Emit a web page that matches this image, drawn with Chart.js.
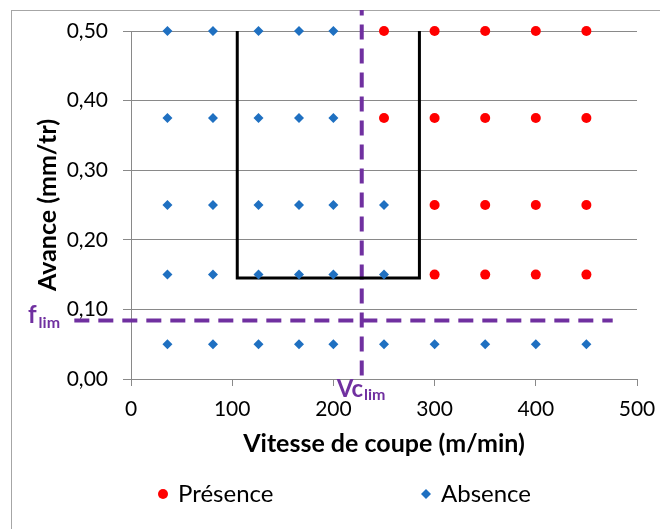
<!DOCTYPE html>
<html>
<head>
<meta charset="utf-8">
<script src="https://cdn.jsdelivr.net/npm/chart.js@4.4.1/dist/chart.umd.min.js"></script>
<style>
  html, body { margin: 0; padding: 0; background: #fff; }
  #wrap { width: 660px; height: 529px; }
</style>
</head>
<body>
<div id="wrap"><canvas id="graphe" width="660" height="529"></canvas></div>
<script>
// vitesses de coupe (m/min) testées, et avances (mm/tr)
const vitesses = [36, 81, 126, 166, 200, 250, 300, 350, 400, 450];
const avances = [0.50, 0.375, 0.25, 0.15, 0.05];
// P = présence, A = absence ; une ligne par avance, une lettre par vitesse
const etats = [
    'AAAAAPPPPP',
    'AAAAAPPPPP',
    'AAAAAAPPPP',
    'AAAAAAPPPP',
    'AAAAAAAAAA'
];
// cadre noir (ouvert en haut)
const cadreX = [105, 105, 285, 285];
const cadreY = [0.50, 0.145, 0.145, 0.50];
// limites
const fLim = 0.084;
const vcLim = 228;
const fLimX = [-56, 476];
const vcLimY = [0.005, 0.53];

const xTicks = [0, 100, 200, 300, 400, 500];
const yTicks = [0, 0.1, 0.2, 0.3, 0.4, 0.5];

const BLEU = '#1f70c1';
const ROUGE = '#ff0000';
const VIOLET = '#7030a0';
const GRIS = '#898989';

const presence = [];
const absence = [];
avances.forEach((f, i) => {
    vitesses.forEach((vc, j) => {
        const pt = {x: vc, y: f};
        if (etats[i][j] === 'P') presence.push(pt); else absence.push(pt);
    });
});

Chart.defaults.font.family = 'Lato';
Chart.defaults.color = '#000';

const deco = {
    id: 'deco',
    beforeDraw(chart) {
        const ctx = chart.ctx;
        ctx.save();
        ctx.fillStyle = '#fff';
        ctx.fillRect(0, 0, chart.width, chart.height);
        ctx.strokeStyle = '#a6a6a6';
        ctx.lineWidth = 1;
        ctx.strokeRect(11.5, 10.5, 700, 600);
        ctx.restore();
    },
    afterDraw(chart) {
        const ctx = chart.ctx;
        const sx = chart.scales.x, sy = chart.scales.y;
        ctx.save();
        ctx.fillStyle = VIOLET;
        ctx.textAlign = 'left';
        ctx.textBaseline = 'alphabetic';
        // f lim
        const fy = sy.getPixelForValue(fLim);
        ctx.font = 'bold 24px Lato';
        ctx.fillText('f', 28, fy + 2);
        let w = ctx.measureText('f').width;
        ctx.font = 'bold 16px Lato';
        ctx.fillText('lim', 28 + w + 2, fy + 7);
        // Vc lim
        const vx = sx.getPixelForValue(vcLim);
        const by = chart.chartArea.bottom + 18;
        ctx.font = 'bold 24px Lato';
        ctx.fillText('Vc', vx - 25, by);
        w = ctx.measureText('Vc').width;
        ctx.font = 'bold 16px Lato';
        ctx.fillText('lim', vx - 25 + w + 1, by + 3);

        // légende
        const ly = 494;
        ctx.font = '24px Lato';
        ctx.textBaseline = 'middle';
        ctx.fillStyle = ROUGE;
        ctx.beginPath();
        ctx.arc(163, ly, 5, 0, Math.PI * 2);
        ctx.fill();
        ctx.fillStyle = '#000';
        ctx.fillText(chart.data.datasets[0].label, 178, ly);
        ctx.fillStyle = BLEU;
        ctx.beginPath();
        ctx.moveTo(426, ly - 5);
        ctx.lineTo(431, ly);
        ctx.lineTo(426, ly + 5);
        ctx.lineTo(421, ly);
        ctx.closePath();
        ctx.fill();
        ctx.fillStyle = '#000';
        ctx.fillText(chart.data.datasets[1].label, 441, ly);
        ctx.restore();
    }
};

new Chart(document.getElementById('graphe'), {
    type: 'scatter',
    data: {
        datasets: [
            {
                label: 'Présence',
                data: presence,
                pointStyle: 'circle',
                pointRadius: 5,
                backgroundColor: ROUGE,
                borderColor: ROUGE,
                borderWidth: 0,
                clip: false
            },
            {
                label: 'Absence',
                data: absence,
                pointStyle: 'rectRot',
                pointRadius: 5,
                backgroundColor: BLEU,
                borderColor: BLEU,
                borderWidth: 0,
                clip: false
            },
            {
                label: 'cadre',
                data: cadreX.map((x, i) => ({x: x, y: cadreY[i]})),
                showLine: true,
                pointRadius: 0,
                borderColor: '#000',
                borderWidth: 3,
                clip: false
            },
            {
                label: 'flim',
                data: fLimX.map(x => ({x: x, y: fLim})),
                showLine: true,
                pointRadius: 0,
                borderColor: VIOLET,
                borderWidth: 4,
                borderDash: [15, 9],
                clip: false
            },
            {
                label: 'vclim',
                data: vcLimY.map(y => ({x: vcLim, y: y})),
                showLine: true,
                pointRadius: 0,
                borderColor: VIOLET,
                borderWidth: 4,
                borderDash: [15, 9],
                clip: false
            }
        ]
    },
    options: {
        responsive: false,
        animation: false,
        events: [],
        layout: { padding: { top: 31, right: 23, bottom: 60, left: 0 } },
        plugins: { legend: { display: false }, tooltip: { enabled: false } },
        scales: {
            x: {
                type: 'linear',
                min: 0, max: 500,
                afterBuildTicks: s => { s.ticks = xTicks.map(v => ({value: v})); },
                afterFit: s => { s.height = 90; s.paddingRight = 0; s.paddingLeft = 0; },
                ticks: { font: { size: 21 }, padding: 11 },
                grid: { drawOnChartArea: false, color: GRIS, tickLength: 7 },
                border: { color: GRIS },
                title: { display: true, text: 'Vitesse de coupe (m/min)', font: { size: 25, weight: 'bold' }, padding: { top: 0, bottom: 10 } }
            },
            y: {
                type: 'linear',
                min: 0, max: 0.5,
                afterBuildTicks: s => { s.ticks = yTicks.map(v => ({value: v})); },
                afterFit: s => { s.width = 131; s.paddingTop = 0; s.paddingBottom = 0; },
                ticks: { font: { size: 21 }, padding: 15, callback: v => v.toFixed(2).replace('.', ',') },
                grid: { color: GRIS, tickLength: 8 },
                border: { color: GRIS },
                title: { display: true, text: 'Avance (mm/tr)', font: { size: 25, weight: 'bold' }, padding: { top: 33, bottom: 0 } }
            }
        }
    },
    plugins: [deco]
});
</script>
</body>
</html>
